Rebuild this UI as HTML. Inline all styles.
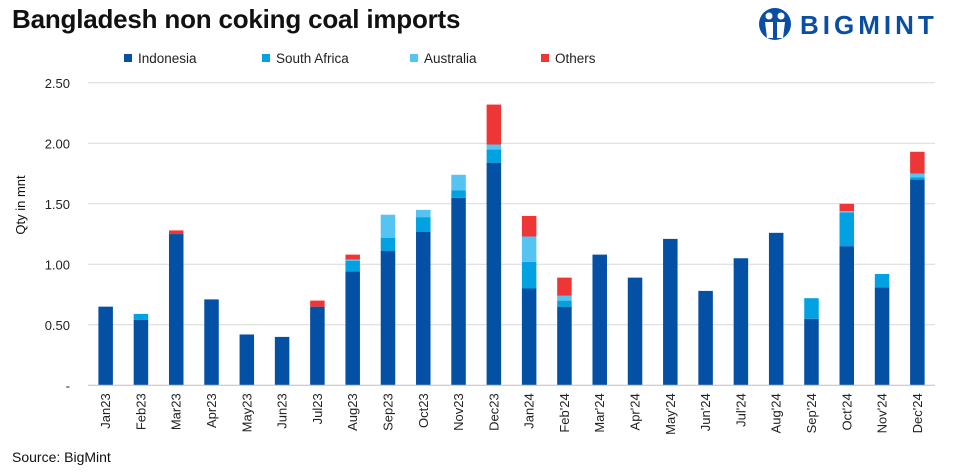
<!DOCTYPE html>
<html><head><meta charset="utf-8"><style>
body{margin:0;background:#fff;font-family:"Liberation Sans",Arial,sans-serif;}
#wrap{position:relative;width:960px;height:473px;overflow:hidden;}
</style></head><body>
<div id="wrap">
<svg id="chart" width="960" height="473" xmlns="http://www.w3.org/2000/svg">
<text x="12" y="28" font-size="26" font-weight="bold" fill="#111" style="letter-spacing:-0.2px">Bangladesh non coking coal imports</text>
<g>
<circle cx="775" cy="24" r="16" fill="#0a4ea3"/>
<circle cx="769" cy="16" r="3.5" fill="#fff"/><circle cx="781" cy="16" r="3.5" fill="#fff"/>
<path d="M765 22 L773 22 L773 38 L767 38 Z M777 22 L785 22 L783 38 L777 38 Z" fill="#fff"/>
<text x="800" y="34" font-size="26" font-weight="bold" fill="#0a4ea3" style="letter-spacing:4px">BIGMINT</text>
</g>
<text x="12" y="462" font-size="14" fill="#111">Source: BigMint</text>
<g id="legend"></g>
<g id="grid"></g><g id="bars"></g><g id="axes"></g>
<text transform="translate(25,205) rotate(-90)" text-anchor="middle" font-size="13" fill="#111">Qty in mnt</text>
</svg>
</div>
<script>
const categories=["Jan23","Feb23","Mar23","Apr23","May23","Jun23","Jul23","Aug23","Sep23","Oct23","Nov23","Dec23","Jan24","Feb'24","Mar'24","Apr'24","May'24","Jun'24","Jul'24","Aug'24","Sep'24","Oct'24","Nov'24","Dec'24"];
const indonesia=[0.65,0.54,1.25,0.71,0.42,0.40,0.65,0.94,1.11,1.27,1.55,1.84,0.80,0.65,1.08,0.89,1.21,0.78,1.05,1.26,0.55,1.15,0.81,1.70];
const southAfrica=[0,0.05,0,0,0,0,0,0.09,0.11,0.12,0.06,0.11,0.22,0.05,0,0,0,0,0,0,0.17,0.28,0.11,0.02];
const australia=[0,0,0,0,0,0,0,0.01,0.19,0.06,0.13,0.04,0.21,0.04,0,0,0,0,0,0,0,0.01,0,0.03];
const others=[0,0,0.03,0,0,0,0.05,0.04,0,0,0,0.33,0.17,0.15,0,0,0,0,0,0,0,0.06,0,0.18];
const seriesNames=["Indonesia","South Africa","Australia","Others"];
const yTicks=[0,0.5,1.0,1.5,2.0,2.5];
const yTickLabels=["-","0.50","1.00","1.50","2.00","2.50"];
const colors=["#0450a4","#02a2e2","#55c4f2","#ef3636"];
const NS="http://www.w3.org/2000/svg";
const X0=88,X1=935,Y0=385.3,PPU=121;
const y=v=>Y0-v*PPU;
const step=(X1-X0)/categories.length;
const xc=i=>X0+step*(i+0.5);
const BW=14.5;
function mk(tag,attrs,parent){const e=document.createElementNS(NS,tag);for(const k in attrs)e.setAttribute(k,attrs[k]);parent.appendChild(e);return e;}
const grid=document.getElementById('grid'),bars=document.getElementById('bars'),axes=document.getElementById('axes'),legend=document.getElementById('legend');
yTicks.forEach((t,i)=>{
 if(t>0){const l=mk('line',{x1:X0,x2:X1,y1:y(t),y2:y(t),stroke:'#d9d9d9','stroke-width':1},grid);
 
 }
 const tx=mk('text',{x:70,y:y(t)+5,'text-anchor':'end','font-size':13,fill:'#222'},axes);
 tx.textContent=yTickLabels[i];
 
 
});
const base=mk('line',{x1:X0,x2:X1,y1:Y0,y2:Y0,stroke:'#bfbfbf','stroke-width':1},axes);


const series=[indonesia,southAfrica,australia,others];
categories.forEach((c,i)=>{
 let acc=0;
 series.forEach((s,k)=>{
  const v=s[i];if(v<=0)return;
  const r=mk('rect',{x:xc(i)-BW/2,y:y(acc+v),width:BW,height:v*PPU,fill:colors[k]},bars);
  
  
  acc+=v;
 });
 const t=mk('text',{transform:`translate(${xc(i)+4.5},${Y0+8}) rotate(-90)`,'text-anchor':'end','font-size':13,fill:'#222'},axes);
 t.textContent=c;
 
 
});
const lx=[124,262,410,541];
seriesNames.forEach((n,k)=>{
 const r=mk('rect',{x:lx[k],y:54,width:8,height:8,fill:colors[k]},legend);
 
 
 const t=mk('text',{x:lx[k]+14,y:63,'font-size':13.5,fill:'#222'},legend);
 t.textContent=n;
 
 
});
</script>
</body></html>
